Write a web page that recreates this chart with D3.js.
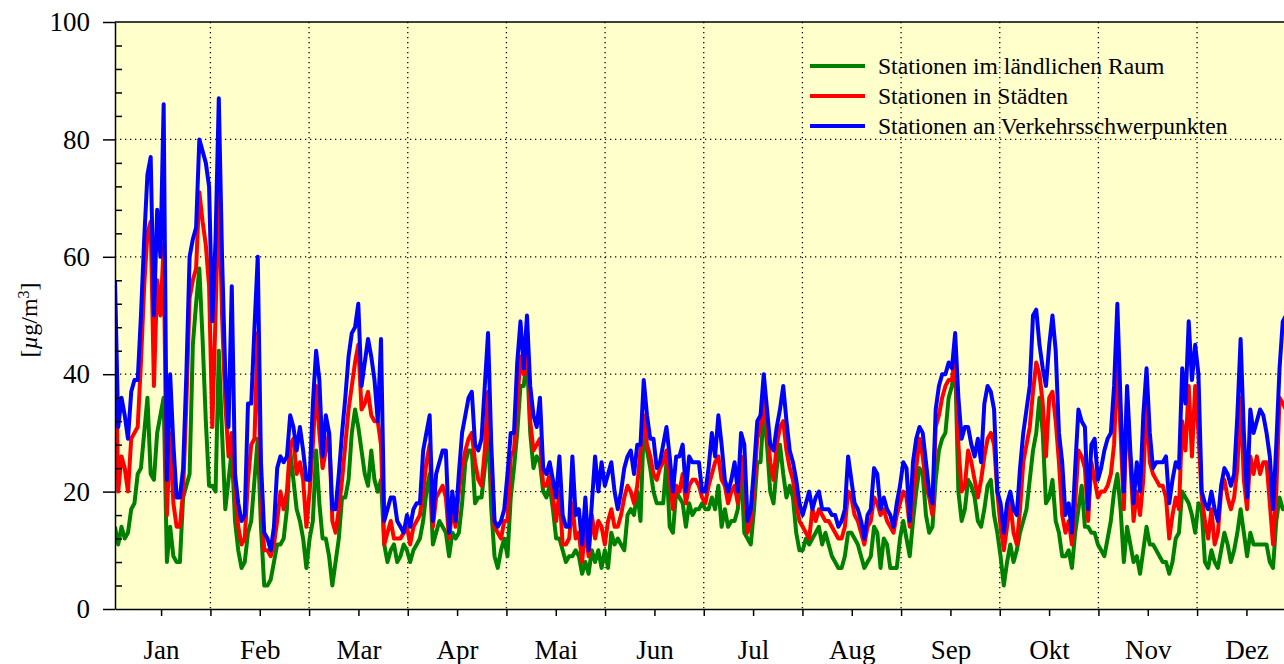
<!DOCTYPE html>
<html>
<head>
<meta charset="utf-8">
<script src="https://cdn.jsdelivr.net/npm/d3@7"></script>
<style>
  html, body { margin: 0; padding: 0; background: #fff; overflow: hidden; }
  svg { display: block; font-family: "Liberation Serif", "Times New Roman", serif; }
</style>
</head>
<body>
<div id="chart"></div>
<script>
// month labels on the x axis
const monthLabels = ["Jan", "Feb", "Mar", "Apr", "Mai", "Jun", "Jul", "Aug", "Sep", "Okt", "Nov", "Dez"];
const yTicks = [0, 20, 40, 60, 80, 100];
const seriesNames = [
  "Stationen im ländlichen Raum",
  "Stationen in Städten",
  "Stationen an Verkehrsschwerpunkten"
];

// daily means, day 1 .. 362 (one row per ~month)
const rural = [
  14, 11, 14, 12, 13, 17, 18, 23, 24, 30, 36, 23, 22, 30, 33, 36, 8, 14, 9, 8, 8, 19, 21, 23, 45, 52, 58, 46, 32, 21, 21, 20, 44,
  30, 17, 22, 27, 15, 10, 7, 8, 13, 15, 22, 29, 14, 4, 4, 5, 8, 11, 11, 12, 17, 27, 22, 17, 15, 12, 7, 12, 15, 27, 18, 12,
  12, 9, 4, 8, 12, 19, 19, 22, 30, 34, 31, 27, 23, 21, 27, 22, 20, 22, 11, 8, 10, 11, 8, 9, 11, 10, 8, 10, 11, 12, 15, 20, 23,
  11, 13, 15, 14, 13, 9, 13, 12, 13, 18, 25, 27, 27, 18, 19, 19, 24, 31, 17, 9, 7, 10, 12, 9, 19, 24, 30, 38, 38, 43, 30, 24,
  26, 25, 20, 19, 21, 17, 12, 12, 10, 8, 9, 9, 10, 9, 6, 8, 6, 10, 8, 10, 7, 10, 7, 13, 11, 12, 11, 10, 16, 17, 16, 20,
  15, 31, 27, 24, 20, 18, 18, 18, 25, 14, 13, 20, 19, 18, 14, 18, 16, 17, 17, 18, 17, 17, 19, 17, 21, 14, 17, 14, 15, 15, 17, 24, 13,
  12, 11, 17, 25, 25, 34, 28, 20, 18, 24, 28, 23, 19, 21, 19, 13, 10, 10, 12, 11, 12, 13, 14, 11, 13, 11, 9, 8, 7, 7, 9, 13,
  13, 12, 11, 9, 7, 8, 9, 14, 13, 7, 12, 11, 7, 7, 7, 12, 15, 12, 9, 15, 20, 24, 23, 16, 13, 14, 22, 27, 29, 30, 36, 38, 42,
  20, 15, 17, 22, 21, 19, 15, 14, 17, 21, 22, 16, 13, 9, 4, 8, 11, 8, 10, 13, 15, 17, 22, 27, 30, 36, 30, 18, 19, 22, 15, 13,
  9, 9, 10, 7, 13, 17, 21, 14, 14, 13, 13, 11, 10, 9, 12, 15, 20, 23, 17, 8, 14, 11, 8, 9, 6, 10, 14, 11, 11, 10, 9, 8,
  8, 6, 8, 12, 13, 20, 19, 18, 16, 13, 18, 17, 8, 7, 10, 8, 7, 10, 13, 11, 8, 10, 13, 17, 13, 9, 13, 11, 11, 11, 11, 11, 8, 7, 15, 19, 17, 17
];
const urban = [
  52, 20, 26, 24, 20, 29, 30, 31, 42, 55, 64, 66, 38, 56, 50, 62, 16, 30, 18, 14, 14, 20, 35, 53, 56, 58, 71, 66, 62, 55, 31, 50, 72,
  50, 35, 26, 30, 20, 14, 11, 12, 22, 28, 29, 47, 20, 10, 10, 9, 11, 15, 20, 17, 20, 28, 29, 23, 25, 22, 14, 20, 28, 38, 30, 24,
  27, 30, 15, 13, 17, 22, 28, 34, 38, 42, 45, 34, 35, 37, 33, 32, 32, 28, 11, 13, 15, 12, 12, 12, 13, 14, 11, 14, 15, 16, 20, 25, 28,
  14, 19, 20, 21, 19, 12, 17, 14, 20, 24, 27, 29, 30, 25, 22, 21, 27, 37, 25, 14, 13, 12, 15, 15, 26, 27, 35, 43, 40, 47, 32, 27,
  28, 29, 21, 21, 23, 19, 15, 20, 11, 11, 12, 18, 12, 13, 8, 14, 9, 16, 12, 15, 14, 11, 15, 17, 14, 14, 16, 19, 21, 20, 18, 21,
  27, 33, 28, 26, 23, 22, 24, 25, 27, 22, 17, 21, 20, 23, 18, 21, 22, 22, 21, 19, 18, 21, 23, 25, 26, 22, 21, 18, 20, 21, 18, 26, 22,
  13, 15, 21, 29, 31, 36, 31, 25, 22, 28, 31, 32, 27, 24, 22, 18, 15, 14, 13, 12, 17, 15, 17, 16, 15, 15, 14, 13, 12, 12, 14, 20,
  19, 16, 15, 13, 11, 14, 15, 19, 18, 16, 17, 15, 14, 13, 16, 18, 20, 19, 14, 19, 24, 29, 26, 21, 19, 16, 31, 33, 36, 38, 39, 39, 43,
  28, 20, 21, 27, 25, 22, 19, 22, 26, 29, 30, 28, 20, 14, 10, 14, 18, 13, 11, 17, 25, 28, 31, 37, 42, 40, 35, 26, 36, 37, 32, 25,
  16, 13, 15, 11, 18, 27, 26, 24, 15, 25, 22, 19, 20, 20, 21, 23, 28, 43, 30, 17, 36, 25, 15, 20, 16, 22, 36, 25, 23, 22, 21, 21,
  19, 12, 16, 19, 17, 32, 27, 38, 26, 38, 30, 19, 15, 12, 17, 11, 13, 20, 22, 19, 17, 19, 24, 36, 22, 17, 26, 23, 26, 23, 25, 25, 18, 11, 20, 36, 35, 34
];
const traffic = [
  56, 31, 36, 33, 29, 37, 39, 39, 50, 63, 74, 77, 50, 68, 60, 86, 22, 40, 28, 19, 19, 24, 40, 60, 63, 65, 80, 78, 76, 72, 49, 63, 87,
  60, 40, 31, 55, 23, 18, 15, 16, 35, 35, 48, 60, 25, 13, 12, 10, 14, 24, 26, 25, 26, 33, 31, 27, 31, 27, 22, 22, 35, 44, 39, 26,
  33, 30, 17, 17, 23, 30, 36, 43, 47, 48, 52, 38, 42, 46, 43, 39, 32, 46, 15, 17, 19, 19, 15, 14, 13, 16, 14, 17, 18, 18, 27, 30, 33,
  15, 23, 25, 27, 27, 13, 20, 15, 23, 30, 33, 36, 37, 28, 27, 29, 38, 47, 28, 15, 14, 15, 17, 23, 30, 30, 42, 49, 41, 50, 38, 33,
  31, 36, 24, 23, 25, 22, 19, 26, 16, 14, 14, 26, 16, 17, 11, 19, 10, 18, 26, 20, 25, 21, 23, 25, 20, 17, 20, 24, 26, 27, 23, 28,
  28, 39, 33, 29, 29, 24, 25, 28, 31, 26, 20, 26, 26, 28, 20, 26, 25, 25, 25, 20, 20, 24, 30, 26, 33, 28, 22, 20, 22, 25, 20, 30, 28,
  15, 17, 24, 32, 33, 40, 34, 28, 27, 31, 34, 38, 32, 27, 25, 22, 18, 16, 18, 20, 17, 19, 20, 17, 17, 17, 16, 16, 14, 15, 17, 26,
  22, 18, 17, 15, 12, 16, 17, 24, 23, 17, 19, 17, 16, 14, 18, 21, 25, 24, 15, 25, 29, 31, 30, 25, 20, 18, 34, 38, 40, 40, 42, 41, 47,
  36, 29, 31, 31, 28, 26, 29, 25, 35, 38, 37, 34, 20, 18, 13, 18, 20, 17, 16, 24, 30, 34, 38, 50, 51, 45, 41, 38, 45, 50, 44, 30,
  25, 16, 18, 13, 24, 34, 32, 31, 17, 28, 29, 22, 24, 27, 29, 30, 38, 52, 35, 20, 38, 27, 18, 25, 20, 33, 41, 30, 24, 25, 25, 25,
  26, 18, 22, 25, 24, 41, 35, 49, 39, 45, 40, 20, 18, 17, 20, 17, 15, 21, 24, 23, 21, 23, 33, 46, 30, 19, 34, 30, 32, 34, 33, 30, 26, 17, 28, 41, 49, 50
];

const width = 1310;
const height = 664;
const plot = { left: 115, top: 22, right: 1299, bottom: 609 };
const colors = ["#008000", "#ff0000", "#0000ff"];
const daysPerMonth = 365 / 12;

const svg = d3.select("#chart").append("svg")
  .attr("width", width)
  .attr("height", height);

const x = d3.scaleLinear().domain([1, 366]).range([plot.left, plot.right]);
const y = d3.scaleLinear().domain([0, 100]).range([plot.bottom, plot.top]);

// yellow plot background
svg.append("rect")
  .attr("x", plot.left).attr("y", plot.top)
  .attr("width", plot.right - plot.left).attr("height", plot.bottom - plot.top)
  .attr("fill", "#ffffcc");

// dotted grid
const boundaries = d3.range(1, 12).map(k => k * daysPerMonth);
const grid = svg.append("g")
  .attr("stroke", "#000")
  .attr("stroke-width", 1.3)
  .attr("stroke-dasharray", "1.3,3.7");
grid.selectAll("line.v").data(boundaries).enter().append("line")
  .attr("class", "v")
  .attr("x1", d => x(d)).attr("x2", d => x(d))
  .attr("y1", plot.top).attr("y2", plot.bottom);
grid.selectAll("line.h").data(yTicks.filter(v => v > 0 && v < 100)).enter().append("line")
  .attr("class", "h")
  .attr("x1", plot.left).attr("x2", plot.right)
  .attr("y1", d => y(d)).attr("y2", d => y(d));

// lines
svg.append("clipPath").attr("id", "clip")
  .append("rect")
  .attr("x", plot.left).attr("y", plot.top)
  .attr("width", plot.right - plot.left).attr("height", plot.bottom - plot.top);

const line = d3.line()
  .x((d, i) => x(i + 1))
  .y(d => y(d));

const series = [rural, urban, traffic];
svg.append("g")
  .attr("clip-path", "url(#clip)")
  .selectAll("path")
  .data(series)
  .enter()
  .append("path")
  .attr("d", line)
  .attr("fill", "none")
  .attr("stroke", (d, i) => colors[i])
  .attr("stroke-width", 4)
  .attr("stroke-linejoin", "round");

// top frame
svg.append("line")
  .attr("x1", plot.left).attr("x2", plot.right)
  .attr("y1", plot.top).attr("y2", plot.top)
  .attr("stroke", "#000").attr("stroke-width", 1.5);

// y axis: major ticks outside, minor ticks inside
const yAxis = svg.append("g")
  .attr("transform", `translate(${plot.left},0)`)
  .call(d3.axisLeft(y).tickValues(yTicks).tickSize(12).tickSizeOuter(0).tickPadding(13));
yAxis.selectAll("text").attr("font-size", 27).attr("font-family", "Liberation Serif").attr("fill", "#000");

svg.append("g")
  .attr("transform", `translate(${plot.left},0)`)
  .call(d3.axisRight(y)
    .tickValues(d3.range(4, 100, 4).filter(v => v % 20 !== 0))
    .tickSize(7).tickSizeOuter(0).tickFormat(""))
  .select(".domain").remove();

// x axis: boundary ticks + month labels
svg.append("g")
  .attr("transform", `translate(0,${plot.bottom})`)
  .call(d3.axisBottom(x).tickValues(boundaries).tickSize(7).tickSizeOuter(0).tickFormat(""));

const xLabels = svg.append("g")
  .attr("transform", `translate(0,${plot.bottom})`)
  .call(d3.axisBottom(x)
    .tickValues(monthLabels.map((m, i) => (i + 0.5) * daysPerMonth))
    .tickFormat((d, i) => monthLabels[i])
    .tickSize(7).tickSizeOuter(0).tickPadding(24));
xLabels.select(".domain").remove();
xLabels.selectAll("text").attr("font-size", 27).attr("font-family", "Liberation Serif").attr("fill", "#000");

svg.selectAll(".domain, .tick line").attr("stroke", "#000").attr("stroke-width", 1.5);

// y axis title
const yTitle = svg.append("text")
  .attr("transform", "translate(37,320) rotate(-90)")
  .attr("text-anchor", "middle")
  .attr("font-size", 24);
yTitle.append("tspan").text("[");
yTitle.append("tspan").attr("font-style", "italic").text("µ");
yTitle.append("tspan").text("g/m");
yTitle.append("tspan").attr("font-size", 16).attr("baseline-shift", "super").text("3");
yTitle.append("tspan").text("]");

// legend
const legend = svg.append("g");
seriesNames.forEach((name, i) => {
  const ly = 66 + i * 30;
  legend.append("line")
    .attr("x1", 810).attr("x2", 865)
    .attr("y1", ly).attr("y2", ly)
    .attr("stroke", colors[i]).attr("stroke-width", 4);
  legend.append("text")
    .attr("x", 878).attr("y", ly + 8)
    .attr("font-size", 23.6)
    .text(name);
});
</script>
</body>
</html>
